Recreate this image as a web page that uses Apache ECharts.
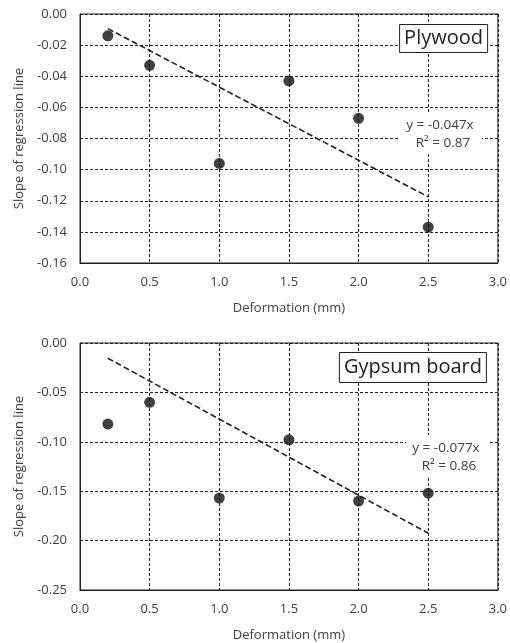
<!DOCTYPE html>
<html><head><meta charset="utf-8">
<script src="https://cdn.jsdelivr.net/npm/echarts@6/dist/echarts.min.js"></script>
<style>html,body{margin:0;padding:0;background:#fff;}#c{width:510px;height:643px;}</style>
</head><body><div id="c"></div>
<script>
var deformation = [0.2, 0.5, 1.0, 1.5, 2.0, 2.5];
var plywoodSlope = [-0.014, -0.033, -0.096, -0.043, -0.067, -0.137];
var gypsumSlope = [-0.082, -0.060, -0.157, -0.098, -0.160, -0.152];
var plywoodTrendX = [0.2, 2.5];
var plywoodTrendY = [-0.0094, -0.1175];
var gypsumTrendX = [0.2, 2.5];
var gypsumTrendY = [-0.0154, -0.1925];
var xTicks = {min: 0, max: 3, interval: 0.5};
var plyTicks = {min: -0.16, max: 0, interval: 0.02};
var gypTicks = {min: -0.25, max: 0, interval: 0.05};
var plyEq = ['y = -0.047x', 'R\u00b2 = 0.87'];
var gypEq = ['y = -0.077x', 'R\u00b2 = 0.86'];
var panelNames = ['Plywood', 'Gypsum board'];
var xName = 'Deformation (mm)';
var yName = 'Slope of regression line';

function zip(a, b) { return a.map(function (v, i) { return [v, b[i]]; }); }
var FONT = 'Open Sans';
var textCol = '#404040';
function xAx(gi) {
  return {
    gridIndex: gi, type: 'value', min: xTicks.min, max: xTicks.max, interval: xTicks.interval,
    name: xName, nameLocation: 'middle', nameGap: 39,
    nameTextStyle: {fontFamily: FONT, fontSize: 13, color: textCol},
    axisLine: {show: true, onZero: false, lineStyle: {color: '#222', width: 1}},
    axisTick: {show: false},
    axisLabel: {fontFamily: FONT, fontSize: 13, color: textCol, margin: 13, formatter: function (v) { return v.toFixed(1); }},
    splitLine: {show: true, lineStyle: {color: '#222', type: [3, 2], width: 1}}
  };
}
function yAx(gi, t) {
  return {
    gridIndex: gi, type: 'value', min: t.min, max: t.max, interval: t.interval,
    name: yName, nameLocation: 'middle', nameGap: 45,
    nameTextStyle: {fontFamily: FONT, fontSize: 13, color: textCol},
    axisLine: {show: true, onZero: false, lineStyle: {color: '#222', width: 1}},
    axisTick: {show: false},
    axisLabel: {fontFamily: FONT, fontSize: 13, color: textCol, margin: 13, formatter: function (v) { return v.toFixed(2); }},
    splitLine: {show: true, lineStyle: {color: '#222', type: [3, 2], width: 1}}
  };
}
function eqText(lines, cx, cy, box) {
  return [
    {type: 'rect', z: 40, shape: {x: box[0], y: box[1], width: box[2], height: box[3]}, style: {fill: '#fff'}},
    {type: 'text', x: cx, y: cy, z: 50, style: {text: lines[0], font: '13.5px "' + FONT + '"', fill: textCol, align: 'center', verticalAlign: 'middle'}},
    {type: 'text', x: cx + 3, y: cy + 18, z: 50, style: {text: lines[1], font: '13.5px "' + FONT + '"', fill: textCol, align: 'center', verticalAlign: 'middle'}}
  ];
}
var chart = echarts.init(document.getElementById('c'), null, {renderer: 'canvas'});
var option = {
  animation: false,
  backgroundColor: '#fff',
  grid: [
    {left: 80, top: 14, width: 419, height: 249, show: true, borderColor: '#222', borderWidth: 1, backgroundColor: 'transparent'},
    {left: 80, top: 343, width: 419, height: 249, show: true, borderColor: '#222', borderWidth: 1, backgroundColor: 'transparent'}
  ],
  title: [
    {text: panelNames[0], right: 22, top: 24, padding: [2, 5, 2, 5], borderColor: '#222', borderWidth: 1, backgroundColor: '#fff',
      textStyle: {fontFamily: FONT, fontSize: 20, fontWeight: 'normal', color: '#222', lineHeight: 25}},
    {text: panelNames[1], right: 23, top: 352, padding: [3, 5, 3, 5], borderColor: '#222', borderWidth: 1, backgroundColor: '#fff',
      textStyle: {fontFamily: FONT, fontSize: 20, fontWeight: 'normal', color: '#222', lineHeight: 25}}
  ],
  xAxis: [xAx(0), xAx(1)],
  yAxis: [yAx(0, plyTicks), yAx(1, gypTicks)],
  graphic: [].concat(eqText(plyEq, 440, 125, [400, 114, 82, 38]), eqText(gypEq, 446, 448, [406, 435, 82, 42])),
  series: [
    {type: 'line', xAxisIndex: 0, yAxisIndex: 0, data: zip(plywoodTrendX, plywoodTrendY), symbol: 'none',
      lineStyle: {color: '#222', width: 1.6, type: [6, 3]}, z: 3},
    {type: 'scatter', xAxisIndex: 0, yAxisIndex: 0, data: zip(deformation, plywoodSlope), symbolSize: 11,
      itemStyle: {color: '#111'}, z: 4},
    {type: 'line', xAxisIndex: 1, yAxisIndex: 1, data: zip(gypsumTrendX, gypsumTrendY), symbol: 'none',
      lineStyle: {color: '#222', width: 1.6, type: [6, 3]}, z: 3},
    {type: 'scatter', xAxisIndex: 1, yAxisIndex: 1, data: zip(deformation, gypsumSlope), symbolSize: 11,
      itemStyle: {color: '#111'}, z: 4}
  ]
};
chart.setOption(option);
</script></body></html>
